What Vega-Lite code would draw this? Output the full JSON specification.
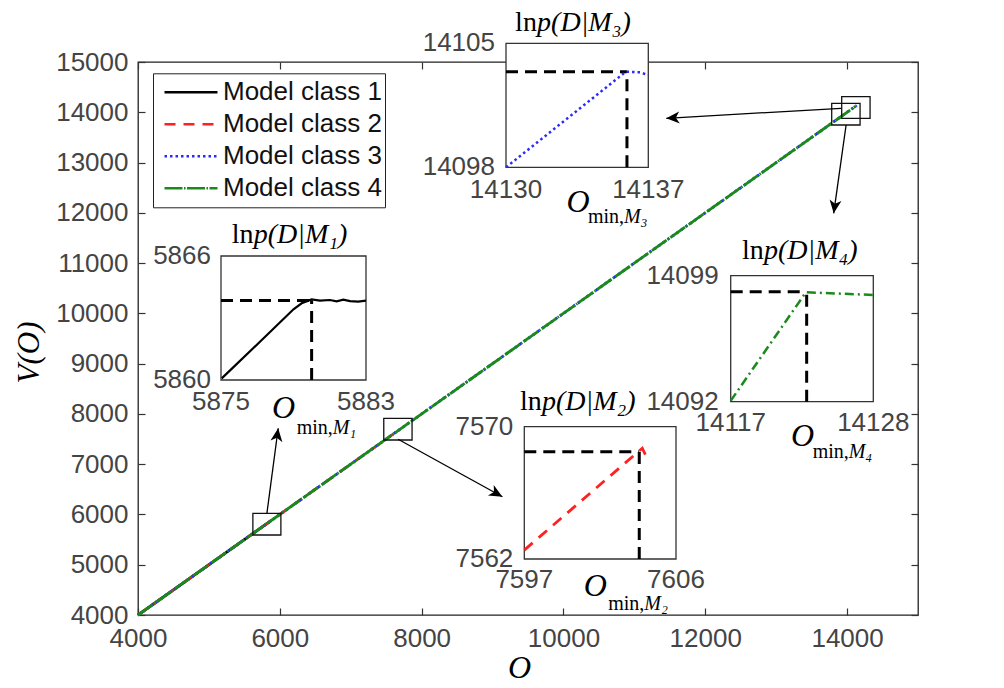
{
"$schema": "https://vega.github.io/schema/vega-lite/v6.json",
"width": 780, "height": 553,
"autosize": {"type": "none"},
"padding": {"left": 138, "top": 62, "right": 86, "bottom": 73},
"background": "white",
"config": {"view": {"stroke": "#222", "strokeWidth": 1.3}, "font": "Liberation Sans"},
"resolve": {"scale": {"x": "independent", "y": "independent"}},
"layer": [
 {
  "resolve": {"axis": {"x": "independent", "y": "independent"}},
  "layer": [
   {
    "data": {"values": [
      {"model": "Model class 1", "x": 4000, "y": 4000}, {"model": "Model class 1", "x": 5880, "y": 5880},
      {"model": "Model class 2", "x": 4000, "y": 4000}, {"model": "Model class 2", "x": 7604, "y": 7604},
      {"model": "Model class 3", "x": 4000, "y": 4000}, {"model": "Model class 3", "x": 14136, "y": 14136},
      {"model": "Model class 4", "x": 4000, "y": 4000}, {"model": "Model class 4", "x": 14123, "y": 14123}
    ]},
    "mark": {"type": "line", "strokeWidth": 2.8},
    "encoding": {
     "x": {"field": "x", "type": "quantitative", "scale": {"domain": [4000, 15000], "nice": false, "zero": false},
       "axis": {"orient": "bottom", "values": [4000, 6000, 8000, 10000, 12000, 14000], "format": "d", "domain": false, "grid": false,
         "tickSize": -7, "tickColor": "#333", "tickWidth": 1.2, "labelFont": "Liberation Sans", "labelFontSize": 26, "labelColor": "#444",
         "labelPadding": 30, "labelBaseline": "middle", "labelFlush": false,
         "title": "O", "titleFont": "Liberation Serif", "titleFontSize": 32, "titleFontStyle": "italic", "titleFontWeight": "normal", "titleColor": "#000",
         "titleX": 381, "titleY": 52, "titleBaseline": "middle", "titleAlign": "center"}},
     "y": {"field": "y", "type": "quantitative", "scale": {"domain": [4000, 15000], "nice": false, "zero": false},
       "axis": {"orient": "left", "values": [4000, 5000, 6000, 7000, 8000, 9000, 10000, 11000, 12000, 13000, 14000, 15000], "format": "d", "domain": false, "grid": false,
         "tickSize": -7, "tickColor": "#333", "tickWidth": 1.2, "labelFont": "Liberation Sans", "labelFontSize": 26, "labelColor": "#444",
         "labelPadding": 17, "labelBaseline": "middle", "labelFlush": false,
         "title": "V(O)", "titleFont": "Liberation Serif", "titleFontSize": 31, "titleFontStyle": "italic", "titleFontWeight": "normal", "titleColor": "#000",
         "titleAngle": 270, "titleX": -109, "titleY": 290, "titleBaseline": "middle", "titleAlign": "center"}},
     "color": {"field": "model", "type": "nominal",
       "scale": {"domain": ["Model class 1", "Model class 2", "Model class 3", "Model class 4"], "range": ["#000000", "#ff2020", "#2a2aff", "#1a8a1a"]},
       "legend": {"title": null, "orient": "none", "legendX": 15, "legendY": 11.3, "labelFont": "Liberation Sans", "labelFontSize": 26, "labelColor": "#111",
         "strokeColor": "#222", "fillColor": "white", "padding": 3, "symbolType": "stroke", "symbolSize": 2809, "symbolStrokeWidth": 2.5,
         "symbolOffset": 7, "labelOffset": 4, "clipHeight": 32, "rowPadding": 0, "labelExpr": "datum.label + '\u00a0\u00a0'",
         "encode": {"symbols": {"update": {"strokeDash": {"signal": "datum.value === 'Model class 4' ? [6, 3, 2, 3] : datum.value === 'Model class 2' ? [12, 13] : datum.value === 'Model class 3' ? [2, 2.5] : [1, 0]"}}}}}},
     "strokeDash": {"field": "model", "type": "nominal",
       "scale": {"domain": ["Model class 1", "Model class 2", "Model class 3", "Model class 4"], "range": [[1, 0], [11, 8], [2.5, 3], [18, 1.5, 1.5, 1.5]]},
       "legend": {"title": null, "orient": "none", "legendX": 15, "legendY": 11.3, "labelFont": "Liberation Sans", "labelFontSize": 26, "labelColor": "#111",
         "strokeColor": "#222", "fillColor": "white", "padding": 3, "symbolType": "stroke", "symbolSize": 2809, "symbolStrokeWidth": 2.5,
         "symbolOffset": 7, "labelOffset": 4, "clipHeight": 32, "rowPadding": 0, "labelExpr": "datum.label + '\u00a0\u00a0'",
         "encode": {"symbols": {"update": {"strokeDash": {"signal": "datum.value === 'Model class 4' ? [6, 3, 2, 3] : datum.value === 'Model class 2' ? [12, 13] : datum.value === 'Model class 3' ? [2, 2.5] : [1, 0]"}}}}}}
    }
   },
   {
    "data": {"values": [
      {"x": 5620, "x2": 6015, "y": 5591, "y2": 6023},
      {"x": 7466, "x2": 7865, "y": 7481, "y2": 7913},
      {"x": 13783, "x2": 14183, "y": 13747, "y2": 14178},
      {"x": 13924, "x2": 14324, "y": 13880, "y2": 14310}
    ]},
    "mark": {"type": "rect", "filled": false, "color": "#111", "strokeWidth": 1.3},
    "encoding": {
     "x": {"field": "x", "type": "quantitative", "scale": {"domain": [4000, 15000], "nice": false, "zero": false},
       "axis": {"orient": "top", "values": [4000, 6000, 8000, 10000, 12000, 14000], "labels": false, "domain": false, "grid": false, "tickSize": -7, "tickColor": "#333", "tickWidth": 1.2, "title": null}},
     "x2": {"field": "x2"},
     "y": {"field": "y", "type": "quantitative", "scale": {"domain": [4000, 15000], "nice": false, "zero": false},
       "axis": {"orient": "right", "values": [4000, 5000, 6000, 7000, 8000, 9000, 10000, 11000, 12000, 13000, 14000, 15000], "labels": false, "domain": false, "grid": false, "tickSize": -7, "tickColor": "#333", "tickWidth": 1.2, "title": null}},
     "y2": {"field": "y2"}
    }
   },
   {
    "data": {"values": [
      {"x": 5818, "y": 6023, "x2": 5977, "y2": 7714},
      {"x": 7668, "y": 7495, "x2": 9139, "y2": 6353},
      {"x": 13915, "y": 14079, "x2": 11450, "y2": 13880},
      {"x": 13986, "y": 13747, "x2": 13811, "y2": 11990}
    ]},
    "mark": {"type": "rule", "color": "#000", "strokeWidth": 1.3},
    "encoding": {
     "x": {"field": "x", "type": "quantitative", "scale": {"domain": [4000, 15000], "nice": false, "zero": false}, "axis": null},
     "x2": {"field": "x2"},
     "y": {"field": "y", "type": "quantitative", "scale": {"domain": [4000, 15000], "nice": false, "zero": false}, "axis": null},
     "y2": {"field": "y2"}
    }
   },
   {
    "data": {"values": [{"x": 5977, "y": 7714}]},
    "mark": {"type": "point", "shape": "M0,0 L-2.2,-1 L-1.6,0 L-2.2,1 Z", "filled": true, "color": "#000", "size": 144, "opacity": 1, "angle": 277.6},
    "encoding": {
     "x": {"field": "x", "type": "quantitative", "scale": {"domain": [4000, 15000], "nice": false, "zero": false}, "axis": null},
     "y": {"field": "y", "type": "quantitative", "scale": {"domain": [4000, 15000], "nice": false, "zero": false}, "axis": null}
    }
   },
   {
    "data": {"values": [{"x": 9139, "y": 6353}]},
    "mark": {"type": "point", "shape": "M0,0 L-2.2,-1 L-1.6,0 L-2.2,1 Z", "filled": true, "color": "#000", "size": 144, "opacity": 1, "angle": 28.8},
    "encoding": {
     "x": {"field": "x", "type": "quantitative", "scale": {"domain": [4000, 15000], "nice": false, "zero": false}, "axis": null},
     "y": {"field": "y", "type": "quantitative", "scale": {"domain": [4000, 15000], "nice": false, "zero": false}, "axis": null}
    }
   },
   {
    "data": {"values": [{"x": 11450, "y": 13880}]},
    "mark": {"type": "point", "shape": "M0,0 L-2.2,-1 L-1.6,0 L-2.2,1 Z", "filled": true, "color": "#000", "size": 144, "opacity": 1, "angle": 176.7},
    "encoding": {
     "x": {"field": "x", "type": "quantitative", "scale": {"domain": [4000, 15000], "nice": false, "zero": false}, "axis": null},
     "y": {"field": "y", "type": "quantitative", "scale": {"domain": [4000, 15000], "nice": false, "zero": false}, "axis": null}
    }
   },
   {
    "data": {"values": [{"x": 13811, "y": 11990}]},
    "mark": {"type": "point", "shape": "M0,0 L-2.2,-1 L-1.6,0 L-2.2,1 Z", "filled": true, "color": "#000", "size": 144, "opacity": 1, "angle": 98},
    "encoding": {
     "x": {"field": "x", "type": "quantitative", "scale": {"domain": [4000, 15000], "nice": false, "zero": false}, "axis": null},
     "y": {"field": "y", "type": "quantitative", "scale": {"domain": [4000, 15000], "nice": false, "zero": false}, "axis": null}
    }
   }
  ]
 },
 {
  "encoding": {
   "x": {"field": "x", "type": "quantitative", "scale": {"domain": [5875, 5883], "range": [83, 228], "nice": false, "zero": false}, "axis": null},
   "y": {"field": "y", "type": "quantitative", "scale": {"domain": [5860, 5866], "range": [318, 194], "nice": false, "zero": false}, "axis": null}
  },
  "layer": [
   {"data": {"values": [{"x": 5875, "y": 5860, "x2": 5883, "y2": 5866}]}, "mark": {"type": "rect", "fill": "white", "stroke": "#333", "strokeWidth": 1.3}, "encoding": {"x2": {"field": "x2"}, "y2": {"field": "y2"}}},
   {"data": {"values": [{"x": 5875, "y": 5863.85, "x2": 5880, "y2": 5863.85}, {"x": 5880, "y": 5860, "x2": 5880, "y2": 5863.85}]}, "mark": {"type": "rule", "color": "#000", "strokeWidth": 3, "strokeDash": [12, 7]}, "encoding": {"x2": {"field": "x2"}, "y2": {"field": "y2"}}},
   {"data": {"values": [
     {"x": 5875.04, "y": 5860.08}, {"x": 5877.15, "y": 5861.85}, {"x": 5879.0, "y": 5863.42}, {"x": 5879.45, "y": 5863.71}, {"x": 5880.0, "y": 5863.9},
     {"x": 5880.46, "y": 5863.84}, {"x": 5881.01, "y": 5863.87}, {"x": 5881.38, "y": 5863.81}, {"x": 5881.75, "y": 5863.89}, {"x": 5882.12, "y": 5863.82},
     {"x": 5882.57, "y": 5863.79}, {"x": 5883.0, "y": 5863.84}]},
    "mark": {"type": "line", "color": "#000", "strokeWidth": 2.2}, "encoding": {}},
   {"data": {"values": [{"x": 5875, "y": 5866, "t": "5866"}, {"x": 5875, "y": 5860, "t": "5860"}]}, "mark": {"type": "text", "align": "right", "baseline": "middle", "dx": -10, "font": "Liberation Sans", "fontSize": 26, "color": "#444"}, "encoding": {"text": {"field": "t"}}},
   {"data": {"values": [{"x": 5875, "y": 5860, "t": "5875"}, {"x": 5883, "y": 5860, "t": "5883"}]}, "mark": {"type": "text", "align": "center", "baseline": "middle", "dy": 22, "font": "Liberation Sans", "fontSize": 26, "color": "#444"}, "encoding": {"text": {"field": "t"}}},
   {"data": {"values": [{"x": 5878.9, "y": 5866, "t": "ln"}]}, "mark": {"type": "text", "align": "left", "baseline": "middle", "dx": -60, "dy": -21, "font": "Liberation Serif", "fontSize": 28, "color": "#000"}, "encoding": {"text": {"field": "t"}}},
   {"data": {"values": [{"x": 5878.9, "y": 5866, "t": "p(D|M₁)"}]}, "mark": {"type": "text", "align": "left", "baseline": "middle", "dx": -38, "dy": -21, "font": "Liberation Serif", "fontStyle": "italic", "fontSize": 28, "color": "#000"}, "encoding": {"text": {"field": "t"}}},
   {"data": {"values": [{"x": 5880, "y": 5860, "t": "O"}]}, "mark": {"type": "text", "align": "center", "baseline": "middle", "dx": -28, "dy": 28, "font": "Liberation Serif", "fontStyle": "italic", "fontSize": 32, "color": "#000"}, "encoding": {"text": {"field": "t"}}},
   {"data": {"values": [{"x": 5880, "y": 5860, "t": "min,"}]}, "mark": {"type": "text", "align": "left", "baseline": "middle", "dx": -15, "dy": 48, "font": "Liberation Serif", "fontSize": 20, "color": "#000"}, "encoding": {"text": {"field": "t"}}},
   {"data": {"values": [{"x": 5880, "y": 5860, "t": "M₁"}]}, "mark": {"type": "text", "align": "left", "baseline": "middle", "dx": 21, "dy": 48, "font": "Liberation Serif", "fontStyle": "italic", "fontSize": 20, "color": "#000"}, "encoding": {"text": {"field": "t"}}}
  ]
 },
 {
  "encoding": {
   "x": {"field": "x", "type": "quantitative", "scale": {"domain": [14130, 14137], "range": [368, 510.3], "nice": false, "zero": false}, "axis": null},
   "y": {"field": "y", "type": "quantitative", "scale": {"domain": [14098, 14105], "range": [105.3, -18.7], "nice": false, "zero": false}, "axis": null}
  },
  "layer": [
   {"data": {"values": [{"x": 14130, "y": 14098, "x2": 14137, "y2": 14105}]}, "mark": {"type": "rect", "fill": "white", "stroke": "#333", "strokeWidth": 1.3}, "encoding": {"x2": {"field": "x2"}, "y2": {"field": "y2"}}},
   {"data": {"values": [{"x": 14130, "y": 14103.4, "x2": 14135.95, "y2": 14103.4}, {"x": 14135.95, "y": 14098, "x2": 14135.95, "y2": 14103.4}]}, "mark": {"type": "rule", "color": "#000", "strokeWidth": 3, "strokeDash": [12, 7]}, "encoding": {"x2": {"field": "x2"}, "y2": {"field": "y2"}}},
   {"data": {"values": [{"x": 14130, "y": 14098.0}, {"x": 14135.9, "y": 14103.4}, {"x": 14136.6, "y": 14103.36}, {"x": 14137, "y": 14103.2}]},
    "mark": {"type": "line", "color": "#2a2aff", "strokeWidth": 2.5, "strokeDash": [2.5, 3]}, "encoding": {}},
   {"data": {"values": [{"x": 14130, "y": 14105, "t": "14105"}, {"x": 14130, "y": 14098, "t": "14098"}]}, "mark": {"type": "text", "align": "right", "baseline": "middle", "dx": -11, "font": "Liberation Sans", "fontSize": 26, "color": "#444"}, "encoding": {"text": {"field": "t"}}},
   {"data": {"values": [{"x": 14130, "y": 14098, "t": "14130"}, {"x": 14137, "y": 14098, "t": "14137"}]}, "mark": {"type": "text", "align": "center", "baseline": "middle", "dy": 23, "font": "Liberation Sans", "fontSize": 26, "color": "#444"}, "encoding": {"text": {"field": "t"}}},
   {"data": {"values": [{"x": 14133.4, "y": 14105, "t": "ln"}]}, "mark": {"type": "text", "align": "left", "baseline": "middle", "dx": -60, "dy": -20, "font": "Liberation Serif", "fontSize": 28, "color": "#000"}, "encoding": {"text": {"field": "t"}}},
   {"data": {"values": [{"x": 14133.4, "y": 14105, "t": "p(D|M₃)"}]}, "mark": {"type": "text", "align": "left", "baseline": "middle", "dx": -38, "dy": -20, "font": "Liberation Serif", "fontStyle": "italic", "fontSize": 28, "color": "#000"}, "encoding": {"text": {"field": "t"}}},
   {"data": {"values": [{"x": 14135.95, "y": 14098, "t": "O"}]}, "mark": {"type": "text", "align": "center", "baseline": "middle", "dx": -49, "dy": 35, "font": "Liberation Serif", "fontStyle": "italic", "fontSize": 32, "color": "#000"}, "encoding": {"text": {"field": "t"}}},
   {"data": {"values": [{"x": 14135.95, "y": 14098, "t": "min,"}]}, "mark": {"type": "text", "align": "left", "baseline": "middle", "dx": -39, "dy": 50, "font": "Liberation Serif", "fontSize": 20, "color": "#000"}, "encoding": {"text": {"field": "t"}}},
   {"data": {"values": [{"x": 14135.95, "y": 14098, "t": "M₃"}]}, "mark": {"type": "text", "align": "left", "baseline": "middle", "dx": -3, "dy": 50, "font": "Liberation Serif", "fontStyle": "italic", "fontSize": 20, "color": "#000"}, "encoding": {"text": {"field": "t"}}}
  ]
 },
 {
  "encoding": {
   "x": {"field": "x", "type": "quantitative", "scale": {"domain": [14117, 14128], "range": [592.7, 735.3], "nice": false, "zero": false}, "axis": null},
   "y": {"field": "y", "type": "quantitative", "scale": {"domain": [14092, 14099], "range": [339.7, 213.7], "nice": false, "zero": false}, "axis": null}
  },
  "layer": [
   {"data": {"values": [{"x": 14117, "y": 14092, "x2": 14128, "y2": 14099}]}, "mark": {"type": "rect", "fill": "white", "stroke": "#333", "strokeWidth": 1.3}, "encoding": {"x2": {"field": "x2"}, "y2": {"field": "y2"}}},
   {"data": {"values": [{"x": 14117, "y": 14098.11, "x2": 14122.86, "y2": 14098.11}, {"x": 14122.86, "y": 14092, "x2": 14122.86, "y2": 14098.11}]}, "mark": {"type": "rule", "color": "#000", "strokeWidth": 3, "strokeDash": [12, 7]}, "encoding": {"x2": {"field": "x2"}, "y2": {"field": "y2"}}},
   {"data": {"values": [{"x": 14117, "y": 14092.05}, {"x": 14122.8, "y": 14098.08}, {"x": 14128, "y": 14097.93}]},
    "mark": {"type": "line", "color": "#1a8a1a", "strokeWidth": 2.5, "strokeDash": [9, 4, 2, 4]}, "encoding": {}},
   {"data": {"values": [{"x": 14117, "y": 14099, "t": "14099"}, {"x": 14117, "y": 14092, "t": "14092"}]}, "mark": {"type": "text", "align": "right", "baseline": "middle", "dx": -12, "font": "Liberation Sans", "fontSize": 26, "color": "#444"}, "encoding": {"text": {"field": "t"}}},
   {"data": {"values": [{"x": 14117, "y": 14092, "t": "14117"}, {"x": 14128, "y": 14092, "t": "14128"}]}, "mark": {"type": "text", "align": "center", "baseline": "middle", "dy": 21, "font": "Liberation Sans", "fontSize": 26, "color": "#444"}, "encoding": {"text": {"field": "t"}}},
   {"data": {"values": [{"x": 14122.5, "y": 14099, "t": "ln"}]}, "mark": {"type": "text", "align": "left", "baseline": "middle", "dx": -60, "dy": -25, "font": "Liberation Serif", "fontSize": 28, "color": "#000"}, "encoding": {"text": {"field": "t"}}},
   {"data": {"values": [{"x": 14122.5, "y": 14099, "t": "p(D|M₄)"}]}, "mark": {"type": "text", "align": "left", "baseline": "middle", "dx": -38, "dy": -25, "font": "Liberation Serif", "fontStyle": "italic", "fontSize": 28, "color": "#000"}, "encoding": {"text": {"field": "t"}}},
   {"data": {"values": [{"x": 14122.86, "y": 14092, "t": "O"}]}, "mark": {"type": "text", "align": "center", "baseline": "middle", "dx": -4, "dy": 34, "font": "Liberation Serif", "fontStyle": "italic", "fontSize": 32, "color": "#000"}, "encoding": {"text": {"field": "t"}}},
   {"data": {"values": [{"x": 14122.86, "y": 14092, "t": "min,"}]}, "mark": {"type": "text", "align": "left", "baseline": "middle", "dx": 6, "dy": 50, "font": "Liberation Serif", "fontSize": 20, "color": "#000"}, "encoding": {"text": {"field": "t"}}},
   {"data": {"values": [{"x": 14122.86, "y": 14092, "t": "M₄"}]}, "mark": {"type": "text", "align": "left", "baseline": "middle", "dx": 42, "dy": 50, "font": "Liberation Serif", "fontStyle": "italic", "fontSize": 20, "color": "#000"}, "encoding": {"text": {"field": "t"}}}
  ]
 },
 {
  "encoding": {
   "x": {"field": "x", "type": "quantitative", "scale": {"domain": [7597, 7606], "range": [386.3, 538], "nice": false, "zero": false}, "axis": null},
   "y": {"field": "y", "type": "quantitative", "scale": {"domain": [7562, 7570], "range": [497, 364.7], "nice": false, "zero": false}, "axis": null}
  },
  "layer": [
   {"data": {"values": [{"x": 7597, "y": 7562, "x2": 7606, "y2": 7570}]}, "mark": {"type": "rect", "fill": "white", "stroke": "#333", "strokeWidth": 1.3}, "encoding": {"x2": {"field": "x2"}, "y2": {"field": "y2"}}},
   {"data": {"values": [{"x": 7597, "y": 7568.49, "x2": 7603.82, "y2": 7568.49}, {"x": 7603.82, "y": 7562, "x2": 7603.82, "y2": 7568.49}]}, "mark": {"type": "rule", "color": "#000", "strokeWidth": 3, "strokeDash": [12, 7]}, "encoding": {"x2": {"field": "x2"}, "y2": {"field": "y2"}}},
   {"data": {"values": [{"x": 7597, "y": 7562.54}, {"x": 7604.0, "y": 7568.7}, {"x": 7604.3, "y": 7568.05}]},
    "mark": {"type": "line", "color": "#ff2020", "strokeWidth": 2.8, "strokeDash": [11, 8]}, "encoding": {}},
   {"data": {"values": [{"x": 7597, "y": 7570, "t": "7570"}, {"x": 7597, "y": 7562, "t": "7562"}]}, "mark": {"type": "text", "align": "right", "baseline": "middle", "dx": -11, "font": "Liberation Sans", "fontSize": 26, "color": "#444"}, "encoding": {"text": {"field": "t"}}},
   {"data": {"values": [{"x": 7597, "y": 7562, "t": "7597"}, {"x": 7606, "y": 7562, "t": "7606"}]}, "mark": {"type": "text", "align": "center", "baseline": "middle", "dy": 21, "font": "Liberation Sans", "fontSize": 26, "color": "#444"}, "encoding": {"text": {"field": "t"}}},
   {"data": {"values": [{"x": 7600.3, "y": 7570, "t": "ln"}]}, "mark": {"type": "text", "align": "left", "baseline": "middle", "dx": -60, "dy": -25, "font": "Liberation Serif", "fontSize": 28, "color": "#000"}, "encoding": {"text": {"field": "t"}}},
   {"data": {"values": [{"x": 7600.3, "y": 7570, "t": "p(D|M₂)"}]}, "mark": {"type": "text", "align": "left", "baseline": "middle", "dx": -38, "dy": -25, "font": "Liberation Serif", "fontStyle": "italic", "fontSize": 28, "color": "#000"}, "encoding": {"text": {"field": "t"}}},
   {"data": {"values": [{"x": 7603.82, "y": 7562, "t": "O"}]}, "mark": {"type": "text", "align": "center", "baseline": "middle", "dx": -44, "dy": 27, "font": "Liberation Serif", "fontStyle": "italic", "fontSize": 32, "color": "#000"}, "encoding": {"text": {"field": "t"}}},
   {"data": {"values": [{"x": 7603.82, "y": 7562, "t": "min,"}]}, "mark": {"type": "text", "align": "left", "baseline": "middle", "dx": -31, "dy": 45, "font": "Liberation Serif", "fontSize": 20, "color": "#000"}, "encoding": {"text": {"field": "t"}}},
   {"data": {"values": [{"x": 7603.82, "y": 7562, "t": "M₂"}]}, "mark": {"type": "text", "align": "left", "baseline": "middle", "dx": 5, "dy": 45, "font": "Liberation Serif", "fontStyle": "italic", "fontSize": 20, "color": "#000"}, "encoding": {"text": {"field": "t"}}}
  ]
 }
]
}
